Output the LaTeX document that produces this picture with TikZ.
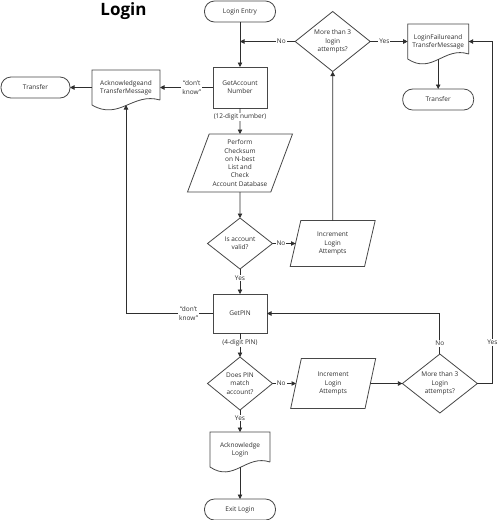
\documentclass[tikz,border=0pt]{standalone}
\usepackage{fontspec}
\setmainfont{Open Sans}
\usepackage{xcolor}
\definecolor{Ink}{HTML}{2E2E2E}
\definecolor{Edge}{HTML}{474747}
\usetikzlibrary{arrows.meta,positioning,shapes.geometric,calc}

\begin{document}
\begin{tikzpicture}[x=1pt,y=1pt,
  every node/.style={font=\fontsize{6.5}{8.3}\selectfont,text=Ink,inner sep=0pt,outer sep=0pt},
  flowbox/.style={draw=Edge,line width=0.8pt,minimum width=54pt,align=center},
  termbox/.style={draw=Edge,line width=0.8pt,rounded corners=10pt,minimum width=71pt,minimum height=21pt},
  decide/.style={diamond,draw=Edge,line width=0.8pt,shape aspect=1.25,align=center},
  io/.style={trapezium,trapezium left angle=65,trapezium right angle=115,trapezium stretches body,draw=Edge,line width=0.8pt,align=center},
  docbox/.style={minimum height=35pt,align=center},
  docline/.style={draw=Edge,line width=0.8pt},
  arrow/.style={-{Triangle[length=4.5pt,width=4.5pt]},draw=Ink,line width=0.8pt},
  lab/.style={fill=white,inner sep=1pt}
]
  \fill[white] (0,0) rectangle (500,-520);
  \useasboundingbox (0,0) rectangle (500,-520);

  % main column
  \node[termbox] (entry) at (240,-11.5) {Login Entry};
  \node[flowbox,minimum height=41pt,below=45pt of entry] (acct) {GetAccount\\Number};
  \node[io,minimum width=105pt,minimum height=58pt,below=26pt of acct] (cksum) {Perform\\Checksum\\on N-best\\List and\\Check\\Account Database};
  \node[decide,minimum width=65pt,minimum height=51pt,below=26pt of cksum] (valid) {Is account\\valid?};
  \node[flowbox,minimum height=39pt,below=25pt of valid] (pin) {GetPIN};
  \node[decide,minimum width=65pt,minimum height=53pt,below=24pt of pin] (match) {Does PIN\\match\\account?};
  \node[docbox,minimum width=60pt,below=22pt of match] (acklog) {Acknowledge\\Login};
  \node[termbox,below=32pt of acklog] (exit) {Exit Login};

  % side branches
  \node[io,minimum width=85pt,minimum height=46pt,right=23pt of valid] (incA) {Increment\\Login\\Attempts};
  \node[decide,minimum width=75pt,minimum height=60pt,above=149pt of incA] (tries) {More than 3\\login\\attempts?};
  \node[docbox,minimum width=61pt,right=37.5pt of tries] (fail) {LoginFailureand\\TransferMessage};
  \node[termbox,below=30pt of fail] (xferR) {Transfer};
  \node[docbox,minimum width=68pt,left=53pt of acct] (ackxf) {Acknowledgeand\\TransferMessage};
  \node[termbox,minimum width=69pt,left=22pt of ackxf] (xferL) {Transfer};
  \node[io,minimum width=85pt,minimum height=50pt,right=23.5pt of match] (incB) {Increment\\Login\\Attempts};
  \node[decide,minimum width=75pt,minimum height=59pt,right=32pt of incB] (triesB) {More than 3\\Login\\attempts?};
  \node[font=\fontsize{17}{20}\selectfont\bfseries,text=black,left=58pt of entry] (title) {Login};

  % document outlines
  \foreach \d in {ackxf,fail,acklog}
    \draw[docline] ($(\d.south east)+(0,5)$) -- (\d.north east) -- (\d.north west) -- (\d.south west)
      .. controls ($(\d.south west)!0.4!(\d.south east)+(0,-16)$) and ($(\d.south west)!0.6!(\d.south east)+(0,13)$) .. ($(\d.south east)+(0,5)$);

  \draw[arrow] (entry) -- (acct);
  \draw[arrow] (acct) -- node[lab,pos=0.35]{(12-digit number)} (cksum);
  \draw[arrow] (cksum) -- (valid);
  \draw[arrow] (valid) -- node[lab,pos=0.36]{Yes} (pin);
  \draw[arrow] (pin) -- node[lab,pos=0.42]{(4-digit PIN)} (match);
  \draw[arrow] (match) -- node[lab,pos=0.36]{Yes} (acklog);
  \draw[arrow] (acklog) -- (exit);
  \draw[arrow] (valid) -- node[lab,pos=0.37]{No} (incA);
  \draw[arrow] (incA) -- (tries);
  \draw[arrow] (tries) -- node[lab,pos=0.25]{No} (tries -| acct);
  \draw[arrow] (tries) -- node[lab,pos=0.38]{Yes} (fail);
  \draw[arrow] (fail) -- (xferR);
  \draw[arrow] (acct) -- node[lab,pos=0.4,align=center]{“don’t\\know”} (ackxf);
  \draw[arrow] (ackxf) -- (xferL);
  \draw[arrow] (pin.west) -| node[lab,pos=0.14,align=center]{“don’t\\know”} (ackxf.south);
  \draw[arrow] (match) -- node[lab,pos=0.37]{No} (incB);
  \draw[arrow] (incB) -- (triesB);
  \draw[arrow] (triesB.north) |- node[lab,pos=0.13]{No} (pin.east);
  \draw[arrow] (triesB.east) -- ++(15,0) |- node[lab,pos=0.06]{Yes} (fail.east);
\end{tikzpicture}
\end{document}
